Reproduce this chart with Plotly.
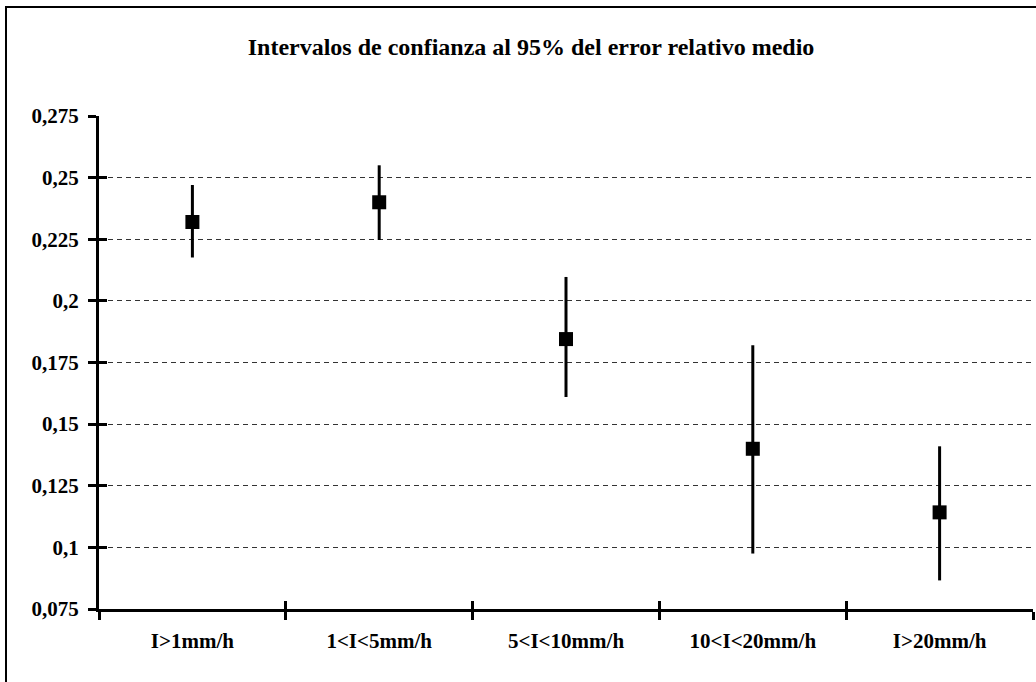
import plotly.graph_objects as go

categories = ["I>1mm/h", "1<I<5mm/h", "5<I<10mm/h", "10<I<20mm/h", "I>20mm/h"]
means = [0.232, 0.240, 0.1845, 0.140, 0.1142]
upper = [0.247, 0.255, 0.2097, 0.182, 0.141]
lower = [0.2176, 0.2247, 0.161, 0.0975, 0.0866]
ytick_vals = [0.075, 0.1, 0.125, 0.15, 0.175, 0.2, 0.225, 0.25, 0.275]
ytick_text = ["0,075", "0,1", "0,125", "0,15", "0,175", "0,2", "0,225", "0,25", "0,275"]
grid_vals = [0.1, 0.125, 0.15, 0.175, 0.2, 0.225, 0.25]
title_text = "Intervalos de confianza al 95% del error relativo medio"

W, H = 1036, 682
ML, MR, MT, MB = 99, 3, 116, 73
serif = "Liberation Serif, Times New Roman, serif"

fig = go.Figure()
# invisible helper traces to activate overlay axes
fig.add_trace(go.Scatter(x=categories, y=means, xaxis="x2", yaxis="y2",
                         mode="markers", marker=dict(opacity=0), showlegend=False, hoverinfo="skip"))
fig.add_trace(go.Scatter(x=categories, y=means, xaxis="x", yaxis="y3",
                         mode="markers", marker=dict(opacity=0), showlegend=False, hoverinfo="skip"))
fig.add_trace(go.Scatter(
    x=categories, y=means, mode="markers",
    marker=dict(symbol="square", size=14, color="black"),
    error_y=dict(type="data", symmetric=False,
                 array=[u - m for u, m in zip(upper, means)],
                 arrayminus=[m - l for m, l in zip(means, lower)],
                 thickness=3, width=0, color="black"),
    showlegend=False, hoverinfo="skip",
))

yr = [0.075, 0.275]
fig.update_layout(
    width=W, height=H,
    margin=dict(l=ML, r=MR, t=MT, b=MB),
    paper_bgcolor="white", plot_bgcolor="rgba(0,0,0,0)",
    title=dict(text=title_text, x=531 / W, xanchor="center", xref="container",
               y=1 - 47 / H, yanchor="middle", yref="container",
               font=dict(family=serif, size=24, color="black", weight="bold")),
    xaxis=dict(type="category", categoryorder="array", categoryarray=categories,
               range=[-0.5, 4.5], tickson="boundaries", ticks="outside", ticklen=8,
               tickwidth=2.5, tickcolor="black", showline=True, linewidth=3, linecolor="black",
               showgrid=False, zeroline=False, ticklabelstandoff=11,
               tickfont=dict(family=serif, size=21, color="black", weight="bold")),
    xaxis2=dict(type="category", categoryorder="array", categoryarray=categories,
                range=[-0.5, 4.5], overlaying="x", side="bottom", tickson="boundaries",
                ticks="inside", ticklen=8, tickwidth=2.5, tickcolor="black",
                showticklabels=False, showline=False, showgrid=False, zeroline=False),
    yaxis=dict(range=yr, tickmode="array", tickvals=ytick_vals, ticktext=ytick_text,
               ticks="outside", ticklen=8, tickwidth=2.5, tickcolor="black",
               showline=True, linewidth=3, linecolor="black", showgrid=False, zeroline=False,
               ticklabelstandoff=5,
               tickfont=dict(family=serif, size=21, color="black", weight="bold")),
    yaxis2=dict(range=yr, overlaying="y", side="left", tickmode="array", tickvals=ytick_vals,
                ticks="inside", ticklen=8, tickwidth=2.5, tickcolor="black",
                showticklabels=False, showline=False, showgrid=False, zeroline=False),
    yaxis3=dict(range=yr, overlaying="y", side="left", tickmode="array", tickvals=grid_vals,
                showticklabels=False, ticks="", showline=False, showgrid=True,
                gridcolor="#333333", gridwidth=1, griddash="5px,4px", zeroline=False),
)
# outer chart border (clipped at right and bottom edges like the reference)
pw = W - ML - MR
ph = H - MT - MB
fig.add_shape(type="rect", xref="paper", yref="paper", layer="below",
              x0=(6 - ML) / pw, x1=(W + 10 - ML) / pw,
              y0=-(H + 10 - (H - MB)) / ph, y1=(H - MB - 7) / ph,
              line=dict(color="black", width=2), fillcolor="rgba(0,0,0,0)")
fig.write_html("out.html", config={"displayModeBar": False},
               post_script="document.body.style.margin='0px';")
